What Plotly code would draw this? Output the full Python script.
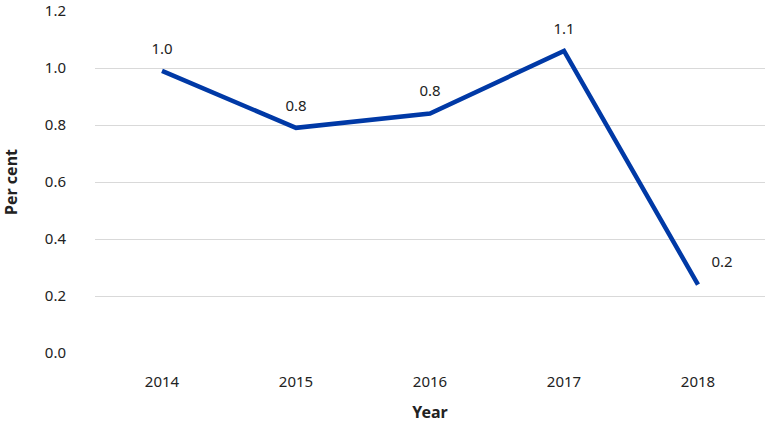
import plotly.graph_objects as go

# ── DATA ────────────────────────────────────────────────────────
years = ['2014', '2015', '2016', '2017', '2018']
per_cent = [0.99, 0.79, 0.84, 1.06, 0.24]
label_pos = ['top center', 'top center', 'top center', 'top center', 'top right']
y_ticks = [0.0, 0.2, 0.4, 0.6, 0.8, 1.0, 1.2]

# ── FIGURE ──────────────────────────────────────────────────────
# invisible markers give the value labels their gap above the line
fig = go.Figure(go.Scatter(
    x=years,
    y=per_cent,
    mode='lines+markers+text',
    line=dict(color='#0039A6', width=4.5),
    marker=dict(size=20, color='rgba(0,0,0,0)'),
    texttemplate='%{y:.1f}',
    textposition=label_pos,
    textfont=dict(size=15, color='#222222'),
    cliponaxis=False,
    hoverinfo='skip',
))

fig.update_layout(
    width=768, height=432,
    margin=dict(l=95, r=3, t=11, b=79, autoexpand=False),
    plot_bgcolor='white', paper_bgcolor='white',
    font=dict(family='Noto Sans, sans-serif', size=15, color='#222222'),
    showlegend=False,
)
fig.update_xaxes(
    type='category', range=[-0.5, 4.5], automargin=False,
    showgrid=False, showline=False, ticks='',
    ticklabelstandoff=18,
    title=dict(text='<b>Year</b>', font=dict(size=16), standoff=16),
)
fig.update_yaxes(
    range=[0, 1.2], tickvals=y_ticks, tickformat='.1f', automargin=False,
    showgrid=True, gridcolor='#d9d9d9', gridwidth=1,
    zeroline=False, showline=False, ticks='',
    ticklabelstandoff=28,
    title=dict(text='<b>Per cent</b>', font=dict(size=16), standoff=30),
)

# page body margin would push the figure 8px in and add scrollbars
fig.write_html('out.html',
               config={'displayModeBar': False},
               post_script="document.body.style.margin='0';"
                           "document.body.style.overflow='hidden';")
